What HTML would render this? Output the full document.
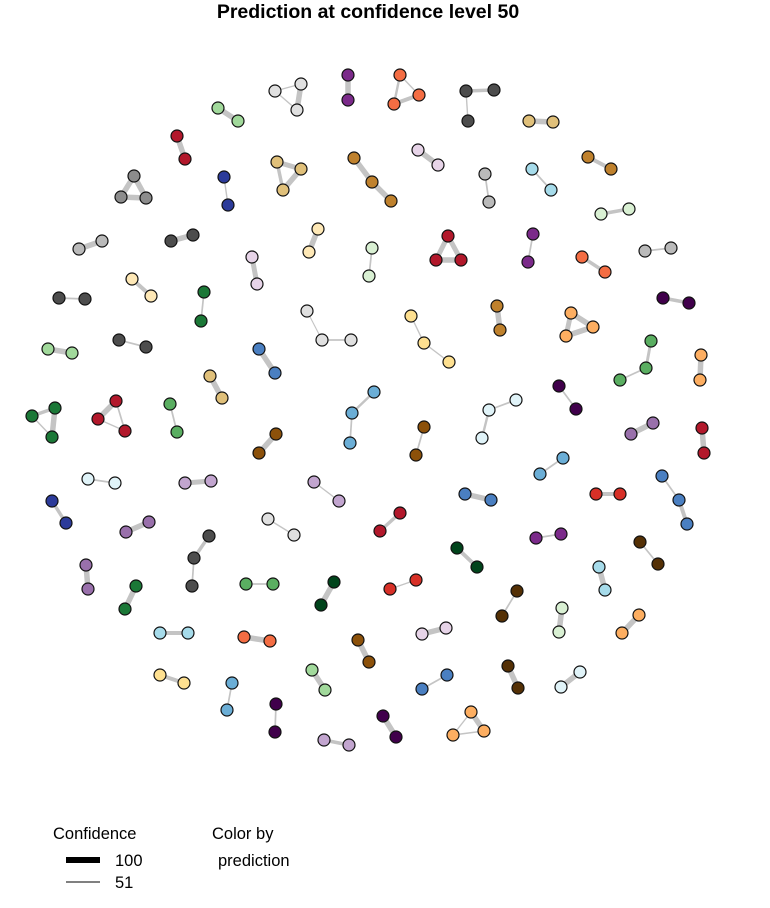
<!DOCTYPE html>
<html><head><meta charset="utf-8"><style>
html,body{margin:0;padding:0;background:#fff;}
svg{display:block;font-family:"Liberation Sans",sans-serif;}
</style></head><body>
<svg id="chart" width="770" height="908" viewBox="0 0 770 908">
<text x="368" y="18" text-anchor="middle" font-size="19.5" font-weight="bold">Prediction at confidence level 50</text>
<g id="edges"></g>
<g id="nodes"></g>
<g>
<text x="53" y="839" font-size="16.5">Confidence</text>
<line x1="66" y1="860" x2="100" y2="860" stroke="#000" stroke-width="6"/>
<text x="115" y="866" font-size="16.5">100</text>
<line x1="66" y1="882" x2="100" y2="882" stroke="#000" stroke-width="1"/>
<text x="115" y="888" font-size="16.5">51</text>
</g>
<g>
<text x="212" y="839" font-size="16.5">Color by</text>
<text x="218" y="866" font-size="16.5">prediction</text>
</g>
</svg>
<script>
// Each group: color, nodes [x,y], edges [i,j,confidence]
const groupColors=['#e0e0e0','#7b2a8a','#f46d43','#4d4d4d','#a1d99b','#e0c07a','#b2182b','#e7d4e8','#bf812d','#bf812d','#bababa','#a6dbea','#2c3b9a','#e0c07a','#8c8c8c','#d9f0d3','#bababa','#4d4d4d','#fee8b6','#d9f0d3','#b2182b','#7b2a8a','#f46d43','#bababa','#e7d4e8','#fee8b6','#4d4d4d','#1b7837','#e0e0e0','#fee090','#bf812d','#fdae61','#40004b','#a1d99b','#4d4d4d','#4a7fc1','#5aae61','#fdae61','#e0c07a','#6baed6','#40004b','#9970ab','#b2182b','#1b7837','#b2182b','#5aae61','#8c510a','#8c510a','#e0f3f8','#6baed6','#e0f3f8','#c2a5cf','#c2a5cf','#4a7fc1','#d73027','#4a7fc1','#2c3b9a','#9970ab','#e0e0e0','#b2182b','#00441b','#7b2a8a','#543005','#4d4d4d','#9970ab','#1b7837','#5aae61','#00441b','#d73027','#543005','#a6dbea','#a6dbea','#f46d43','#e7d4e8','#d9f0d3','#fdae61','#8c510a','#fee090','#6baed6','#a1d99b','#4a7fc1','#543005','#e0f3f8','#40004b','#40004b','#c2a5cf','#fdae61'];
const groupNodes=[
[[275,91],[301,84],[297,110]],[[348,75],[348,100]],[[400,75],[419,95],[394,104]],[[466,91],[494,90],[468,121]],
[[218,108],[238,121]],[[529,121],[553,122]],[[177,136],[185,159]],[[418,150],[438,165]],[[354,158],[372,182],[391,201]],
[[588,157],[611,169]],[[485,174],[489,202]],[[532,169],[551,190]],[[224,177],[228,205]],[[277,162],[301,169],[283,190]],
[[134,176],[121,197],[146,198]],[[601,214],[629,209]],[[79,249],[102,241]],[[171,241],[193,235]],[[318,229],[309,252]],
[[372,248],[369,276]],[[448,236],[436,260],[461,260]],[[533,234],[528,262]],[[582,257],[605,272]],[[645,251],[671,248]],
[[252,257],[257,284]],[[132,279],[151,296]],[[59,298],[85,299]],[[204,292],[201,321]],[[307,311],[322,340],[351,340]],
[[411,316],[424,343],[449,362]],[[497,306],[500,330]],[[571,313],[593,327],[566,336]],[[663,298],[689,303]],
[[48,349],[72,353]],[[119,340],[146,347]],[[259,349],[275,373]],[[651,341],[646,368],[620,380]],[[701,355],[700,380]],
[[210,376],[222,398]],[[374,392],[352,413],[350,443]],[[559,386],[576,409]],[[631,434],[653,423]],[[702,428],[704,453]],
[[55,408],[32,416],[52,437]],[[116,401],[98,419],[125,431]],[[170,404],[177,432]],[[276,434],[259,453]],[[424,427],[416,455]],
[[516,400],[489,410],[482,438]],[[540,474],[563,458]],[[88,479],[115,483]],[[185,483],[211,481]],[[314,482],[339,501]],
[[465,494],[491,500]],[[596,494],[620,494]],[[662,476],[679,500],[687,524]],[[52,501],[66,523]],[[126,532],[149,522]],
[[268,519],[294,535]],[[380,531],[400,513]],[[457,548],[477,567]],[[536,538],[561,534]],[[640,542],[658,564]],
[[209,536],[194,558],[192,586]],[[86,565],[88,589]],[[136,586],[125,609]],[[246,584],[273,584]],[[334,582],[321,605]],
[[390,589],[416,580]],[[517,591],[502,616]],[[599,567],[605,590]],[[160,633],[188,633]],[[244,637],[270,641]],
[[422,634],[446,628]],[[562,608],[559,632]],[[639,615],[622,633]],[[358,640],[369,662]],[[160,675],[184,683]],
[[232,683],[227,710]],[[312,670],[325,690]],[[422,689],[447,675]],[[508,666],[518,688]],[[561,687],[580,672]],
[[276,704],[275,732]],[[383,716],[396,737]],[[324,740],[349,745]],[[471,712],[453,735],[484,731]]];
const groupEdges=[
[[0,1,55],[1,2,95],[0,2,55]],[[0,1,95]],[[0,2,65],[0,1,55],[2,1,80]],[[0,1,75],[0,2,55]],
[[0,1,95]],[[0,1,95]],[[0,1,95]],[[0,1,95]],[[0,1,95],[1,2,95]],
[[0,1,80]],[[0,1,58]],[[0,1,58]],[[0,1,55]],[[0,1,90],[0,2,75],[1,2,95]],
[[0,1,95],[0,2,95],[1,2,95]],[[0,1,75]],[[0,1,95]],[[0,1,95]],[[0,1,95]],
[[0,1,58]],[[0,1,90],[0,2,90],[1,2,95]],[[0,1,58]],[[0,1,75]],[[0,1,58]],
[[0,1,90]],[[0,1,80]],[[0,1,58]],[[0,1,58]],[[0,1,52],[1,2,58]],
[[0,1,55],[1,2,55]],[[0,1,95]],[[0,1,95],[1,2,95],[0,2,90]],[[0,1,75]],
[[0,1,95]],[[0,1,58]],[[0,1,95]],[[0,1,70],[1,2,58]],[[0,1,95]],
[[0,1,95]],[[0,1,65],[1,2,58]],[[0,1,58]],[[0,1,95]],[[0,1,95]],
[[0,2,95],[0,1,75],[1,2,55]],[[0,1,95],[1,2,55],[0,2,58]],[[0,1,58]],[[0,1,95]],[[0,1,58]],
[[0,1,58],[1,2,65]],[[0,1,58]],[[0,1,58]],[[0,1,90]],[[0,1,55]],
[[0,1,95]],[[0,1,80]],[[0,1,58],[1,2,80]],[[0,1,75]],[[0,1,95]],
[[0,1,55]],[[0,1,75]],[[0,1,80]],[[0,1,58]],[[0,1,58]],
[[0,1,75],[1,2,58]],[[0,1,95]],[[0,1,95]],[[0,1,58]],[[0,1,95]],
[[0,1,55]],[[0,1,58]],[[0,1,95]],[[0,1,80]],[[0,1,95]],
[[0,1,95]],[[0,1,95]],[[0,1,95]],[[0,1,95]],[[0,1,80]],
[[0,1,58]],[[0,1,95]],[[0,1,58]],[[0,1,95]],[[0,1,95]],
[[0,1,58]],[[0,1,95]],[[0,1,75]],[[0,2,95],[0,1,55],[1,2,55]]];

const NS='http://www.w3.org/2000/svg';
const eg=document.getElementById('edges'), ng=document.getElementById('nodes');
function widthScale(c){return 1+(c-51)/49*5;}
groupNodes.forEach((nodes,g)=>{
  groupEdges[g].forEach(e=>{
    const a=nodes[e[0]], b=nodes[e[1]];
    const l=document.createElementNS(NS,'line');
    l.setAttribute('x1',a[0]);l.setAttribute('y1',a[1]);
    l.setAttribute('x2',b[0]);l.setAttribute('y2',b[1]);
    l.setAttribute('stroke','#c4c4c4');
    l.setAttribute('stroke-width',widthScale(e[2]));
    
    
    eg.appendChild(l);
  });
  nodes.forEach(p=>{
    const c=document.createElementNS(NS,'circle');
    c.setAttribute('cx',p[0]);c.setAttribute('cy',p[1]);c.setAttribute('r',6);
    c.setAttribute('fill',groupColors[g]);
    c.setAttribute('stroke','#111');c.setAttribute('stroke-width',1.2);
    
    
    ng.appendChild(c);
  });
});
</script>
</body></html>
